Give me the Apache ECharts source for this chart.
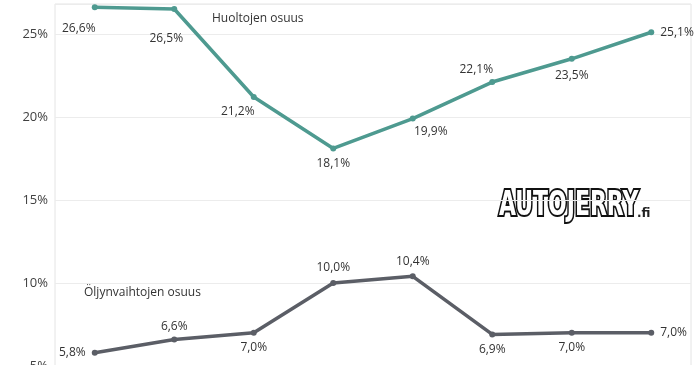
<!DOCTYPE html>
<html><head><meta charset="utf-8">
<script src="https://cdn.jsdelivr.net/npm/echarts@6/dist/echarts.min.js"></script>
<style>html,body{margin:0;padding:0;background:#fff}#c{width:696px;height:365px}</style>
</head><body><div id="c"></div>
<script>
const categories = ['1','2','3','4','5','6','7','8'];
const huollot = [26.6, 26.5, 21.2, 18.1, 19.9, 22.1, 23.5, 25.1];
const oljynvaihdot = [5.8, 6.6, 7.0, 10.0, 10.4, 6.9, 7.0, 7.0];
const yTicks = [5, 10, 15, 20, 25];
const huollotLabelPos = [['bottom',-16,6],['bottom',-8,15],['bottom',-16,0],['bottom',0,0],['bottom',18,-2],['top',-16,3],['bottom',0,2],['right',0,0]];
const oljyLabelPos = [['left',0,0],['top',0,2],['bottom',0,0],['top',0,0],['top',0,0],['bottom',0,0],['bottom',0,0],['right',0,0]];

const fmt = v => v.toFixed(1).replace('.', ',') + '%';
function mk(vals, poss) {
  return vals.map((v, i) => {
    const p = poss[i];
    return {value: v, label: {position: p[0], offset: [p[1], p[2]]}};
  });
}
const chart = echarts.init(document.getElementById('c'));
chart.setOption({
  animation: false,
  grid: {left: 55, right: 5, top: 4, bottom: -1, show: true, borderColor: '#e4e4e4', borderWidth: 1,
         containLabel: false, outerBoundsMode: 'none'},
  xAxis: {type: 'category', data: categories, boundaryGap: true,
    axisLine: {show: false}, axisTick: {show: false}, axisLabel: {show: false}},
  yAxis: {type: 'value', min: 5, max: 26.8, interval: 5,
    axisLine: {show: false}, axisTick: {show: false},
    splitLine: {lineStyle: {color: '#ececec', width: 1}},
    axisLabel: {fontFamily: 'Open Sans', fontSize: 13, color: '#404040', margin: 7,
      formatter: v => yTicks.includes(v) ? v + '%' : ''}},
  series: [
    {type: 'line', name: 'Huoltojen osuus', data: mk(huollot, huollotLabelPos),
     symbol: 'circle', symbolSize: 6, color: '#4E9A90',
     lineStyle: {width: 3.5, color: '#4E9A90'}, itemStyle: {color: '#4E9A90'},
     label: {show: true, formatter: p => fmt(p.value), fontFamily: 'Open Sans', fontSize: 12, color: '#333', distance: 6}},
    {type: 'line', name: 'Öljynvaihtojen osuus', data: mk(oljynvaihdot, oljyLabelPos),
     symbol: 'circle', symbolSize: 6, color: '#5B5E66',
     lineStyle: {width: 3.5, color: '#5B5E66'}, itemStyle: {color: '#5B5E66'},
     label: {show: true, formatter: p => fmt(p.value), fontFamily: 'Open Sans', fontSize: 12, color: '#333', distance: 6}}
  ],
  graphic: [
    {type: 'text', left: 212, top: 13, style: {text: 'Huoltojen osuus', font: '12px "Open Sans"', fill: '#333'}},
    {type: 'text', left: 84, top: 287, style: {text: 'Öljynvaihtojen osuus', font: '12px "Open Sans"', fill: '#333'}},
    {type: 'text', x: 499, y: 190, scaleX: 0.74, style: {text: 'AUTOJERRY', font: 'bold 33px "DejaVu Sans Condensed"', fill: '#fff', stroke: '#111', lineWidth: 4}},
    {type: 'text', left: 637, top: 208, style: {text: '.fi', font: 'bold 12px "DejaVu Sans"', fill: '#222'}}
  ]
});
</script></body></html>
